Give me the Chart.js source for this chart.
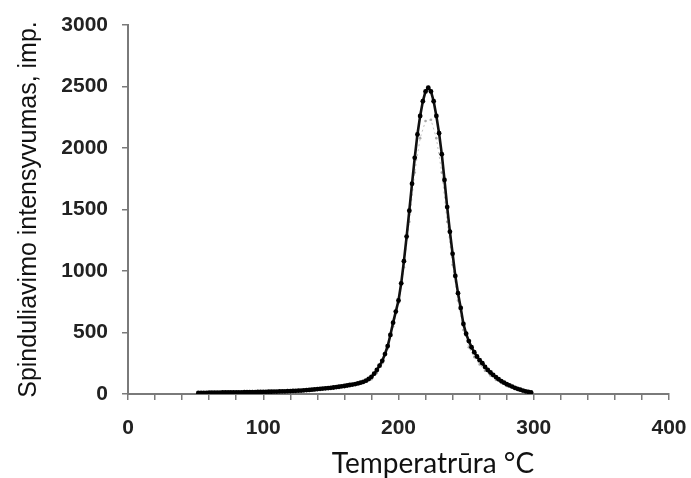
<!DOCTYPE html>
<html>
<head>
<meta charset="utf-8">
<script src="https://cdn.jsdelivr.net/npm/chart.js@4.4.0/dist/chart.umd.min.js"></script>
<style>
    body { margin: 0; background: #fff; }
    #chart { display: block; }
</style>
</head>
<body>
<canvas id="chart" width="691" height="478"></canvas>
<script>
// measured curve (black, with markers)
const temps = [52, 54, 56, 58, 60, 62, 64, 66, 68, 70, 72, 74, 76, 78, 80, 82, 84, 86, 88, 90,
    92, 94, 96, 98, 100, 102, 104, 106, 108, 110, 112, 114, 116, 118, 120, 122, 124, 126, 128, 130,
    132, 134, 136, 138, 140, 142, 144, 146, 148, 150, 152, 154, 156, 158, 160, 162, 164, 166, 168, 170,
    172, 174, 176, 178, 180, 182, 184, 186, 188, 190, 192, 194, 196, 198, 200, 202, 204, 206, 208, 210,
    212, 214, 216, 218, 220, 222, 224, 226, 228, 230, 232, 234, 236, 238, 240, 242, 244, 246, 248, 250,
    252, 254, 256, 258, 260, 262, 264, 266, 268, 270, 272, 274, 276, 278, 280, 282, 284, 286, 288, 290,
    292, 294, 296, 298];
const intensity = [8, 8, 9, 9, 10, 10, 10, 11, 11, 12, 12, 12, 13, 13, 14, 14, 14, 15, 15, 16,
    16, 16, 17, 17, 18, 18, 19, 19, 20, 20, 21, 22, 22, 23, 24, 25, 26, 27, 28, 30,
    32, 33, 35, 37, 40, 42, 44, 46, 48, 50, 53, 56, 59, 62, 65, 69, 73, 77, 81, 86,
    92, 99, 108, 122, 140, 165, 195, 230, 270, 325, 390, 480, 580, 670, 760, 900, 1080, 1280, 1490, 1710,
    1920, 2110, 2260, 2380, 2460, 2490, 2460, 2380, 2260, 2120, 1950, 1740, 1520, 1320, 1140, 960, 820, 700, 570, 490,
    430, 380, 340, 305, 275, 250, 220, 195, 175, 155, 138, 120, 105, 92, 80, 70, 60, 50, 42, 35,
    28, 22, 18, 14];

// second, fainter curve
const temps2 = [180, 184, 188, 192, 196, 200, 204, 208, 212, 216, 220, 224, 228, 232, 236, 240, 244, 248, 252,
    256, 260, 264, 268, 272, 276, 280];
const intensity2 = [120, 170, 250, 370, 550, 740, 1030, 1400, 1800, 2080, 2220, 2230, 2080, 1800, 1400, 1050, 760, 520, 380,
    300, 240, 190, 150, 115, 90, 65];

const xTicks = [0, 100, 200, 300, 400];
const yTicks = [0, 500, 1000, 1500, 2000, 2500, 3000];

const axisGray = '#7a7a7a';
const tickFont = { family: 'Arial, "Liberation Sans", sans-serif', size: 21, weight: 'bold' };

const xTitle = {
    id: 'xTitle',
    afterDraw(chart) {
        const ctx = chart.ctx;
        ctx.save();
        ctx.font = '28px Lato, "Open Sans", sans-serif';
        ctx.fillStyle = '#111';
        ctx.textAlign = 'center';
        ctx.textBaseline = 'alphabetic';
        ctx.fillText('Temperatrūra °C', 433, 473);
        ctx.restore();
    }
};

const chart = new Chart(document.getElementById('chart'), {
    type: 'line',
    data: {
        datasets: [{
            data: temps.map((t, i) => ({ x: t, y: intensity[i] })),
            borderColor: '#111',
            backgroundColor: '#000',
            borderWidth: 2.6,
            pointRadius: 2.4,
            pointBorderWidth: 0,
            tension: 0
        }, {
            data: temps2.map((t, i) => ({ x: t, y: intensity2[i] })),
            borderColor: 'rgba(150,150,150,0.6)',
            backgroundColor: '#aaa',
            borderWidth: 1,
            borderDash: [2, 3],
            pointRadius: 1.3,
            pointBorderWidth: 0
        }]
    },
    options: {
        responsive: false,
        animation: false,
        layout: { padding: { top: 25, right: 22, left: 0, bottom: 0 } },
        plugins: {
            legend: { display: false },
            tooltip: { enabled: false }
        },
        scales: {
            x: {
                type: 'linear',
                min: 0,
                max: 400,
                afterFit: s => {
                    s.height = 84;
                    s.paddingLeft = 0;
                    s.paddingRight = 0;
                },
                afterBuildTicks: s => {
                    const t = [];
                    for (let v = 0; v <= 400; v += 20) t.push({ value: v });
                    s.ticks = t;
                },
                ticks: {
                    autoSkip: false,
                    maxRotation: 0,
                    padding: 16,
                    color: '#222',
                    font: tickFont,
                    callback: v => xTicks.includes(v) ? String(v) : ''
                },
                grid: { drawOnChartArea: false, tickLength: 6, color: axisGray, lineWidth: 1.5 },
                border: { color: axisGray, width: 2 }
            },
            y: {
                min: 0,
                max: 3000,
                afterFit: s => {
                    s.width = 128;
                    s.paddingTop = 0;
                    s.paddingBottom = 0;
                },
                afterBuildTicks: s => { s.ticks = yTicks.map(v => ({ value: v })); },
                ticks: { padding: 14, color: '#222', font: tickFont, callback: v => String(v) },
                grid: { drawOnChartArea: false, tickLength: 6, color: axisGray, lineWidth: 1.5 },
                border: { color: axisGray, width: 2 },
                title: {
                    display: true,
                    text: 'Spinduliavimo intensyvumas, imp.',
                    color: '#111',
                    font: { family: 'Arial, "Liberation Sans", sans-serif', size: 25 },
                    padding: { top: 14, bottom: 0 }
                }
            }
        }
    },
    plugins: [xTitle]
});
</script>
</body>
</html>
